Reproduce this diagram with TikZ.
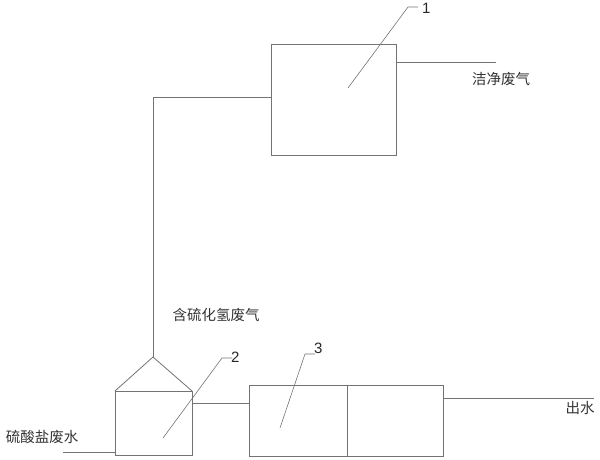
\documentclass[tikz,border=0pt]{standalone}
\usepackage{fontspec}
\newfontfamily\cjk{Noto Sans CJK SC}
\setmainfont{Liberation Sans}
\begin{document}
\begin{tikzpicture}[x=1pt,y=-1pt,
  ln/.style={draw=black!55,line width=0.8pt},
  unit/.style={ln,minimum width=#1,inner sep=0,outer sep=0},
  lbl/.style={font=\cjk\fontsize{14.5}{16}\selectfont,text=black!80,inner sep=0},
  num/.style={font=\fontsize{15}{17}\selectfont,text=black!85,inner sep=0,anchor=west}]
\useasboundingbox (0,0) rectangle (600,459);
% box 1
\node[unit=125pt,minimum height=111pt] (b1) at (333.5,99.5) {};
% box 2
\node[unit=77pt,minimum height=64pt] (b2) at (153.5,423) {};
% box 3 (two halves)
\node[unit=98pt,minimum height=71pt] (b3a) at (298,420.5) {};
\node[unit=96pt,minimum height=71pt,anchor=west] (b3b) at (b3a.east) {};
% hood on box 2
\coordinate (apex) at (153,357);
\draw[ln] (b2.north west) -- (apex) -- (b2.north east);
% gas pipe from box2 hood to box1
\coordinate (p1) at (271,97);
\coordinate (p2) at (153,97);
\draw[ln] (apex) -- (p2) -- (p1);
% clean gas outlet
\coordinate (o1) at (496,62);
\draw[ln] (b1.east |- o1) -- (o1);
\node[lbl] (t1) at (501,79) {洁净废气};
% wastewater inlet
\coordinate (w0) at (63,452);
\draw[ln] (w0) -- (b2.west |- w0);
\node[lbl] (t2) at (42,437) {硫酸盐废水};
% box2 to box3
\coordinate (c23) at (192,403);
\draw[ln] (b2.east |- c23) -- (b3a.west |- c23);
% outlet water
\coordinate (o3) at (594,398);
\draw[ln] (b3b.east |- o3) -- (o3);
\node[lbl] (t3) at (580,408) {出水};
% H2S gas label
\node[lbl] (t4) at (216,315) {含硫化氢废气};
% leaders
\coordinate (l1a) at (348,88); \coordinate (l1b) at (408,7); \coordinate (l1c) at (418,7);
\draw[ln,line width=0.6pt] (l1a) -- (l1b) -- (l1c);
\node[num] (n1) at (422,8) {1};
\coordinate (l2a) at (163,438); \coordinate (l2b) at (222,358); \coordinate (l2c) at (232,358);
\draw[ln,line width=0.6pt] (l2a) -- (l2b) -- (l2c);
\node[num] (n2) at (231,357) {2};
\coordinate (l3a) at (280,428); \coordinate (l3b) at (305,354); \coordinate (l3c) at (315,354);
\draw[ln,line width=0.6pt] (l3a) -- (l3b) -- (l3c);
\node[num] (n3) at (314,348) {3};
\end{tikzpicture}
\end{document}
